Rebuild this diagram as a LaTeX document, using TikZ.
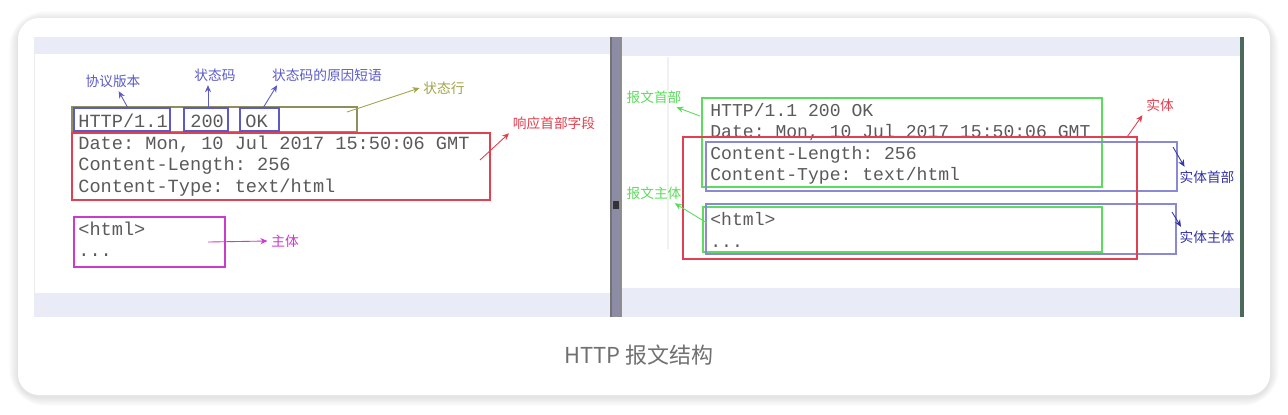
\documentclass[tikz,border=0pt]{standalone}
\usepackage{fontspec}
\setmonofont{Liberation Mono}
\newfontfamily\cjk{Noto Sans CJK SC}
\usetikzlibrary{arrows.meta}

\definecolor{bandblue}{HTML}{E9ECF6}
\definecolor{txtgray}{HTML}{5A5A5A}
\definecolor{capgray}{HTML}{707070}
\definecolor{verblue}{HTML}{5B5BC8}
\definecolor{olivetag}{HTML}{A3A34A}
\definecolor{olivebox}{HTML}{8E8E5E}
\definecolor{hdrred}{HTML}{E0404F}
\definecolor{bodymag}{HTML}{CC3ACC}
\definecolor{msggreen}{HTML}{5CDC5C}
\definecolor{entblue}{HTML}{8A8AD4}
\definecolor{entdark}{HTML}{3434A8}
\definecolor{splitgray}{HTML}{8C8CA6}
\definecolor{edgegreen}{HTML}{4C6A5C}

\tikzset{
  mono/.style={anchor=base west, inner sep=0pt, text=txtgray,
    font=\ttfamily\fontsize{10.6}{12}\selectfont},
  monoR/.style={mono, font=\ttfamily\fontsize{10.3}{12}\selectfont},
  tag/.style={inner sep=2pt, font=\cjk\fontsize{7.8}{9}\selectfont},
  pointer/.style={-{Stealth[length=4pt,width=3.5pt]}, line width=0.5pt},
  frame/.style={line width=0.9pt},
}

\begin{document}
\begin{tikzpicture}[x=0.02cm, y=-0.02cm]
  \useasboundingbox (0,0) rectangle (1288,414);
  \fill[white] (0,0) rectangle (1288,414);

  % -- Card and its soft shadow --
  \foreach \s in {1,...,9}
    \fill[black, opacity=0.012, rounded corners=12+\s] (18-\s,18-\s+2) rectangle (1270+\s,395+\s+2);
  \fill[white, rounded corners=12] (18,18) rectangle (1270,395);

  % -- Left screen panel --
  \fill[bandblue] (34,37) rectangle (610,54);
  \fill[bandblue] (34,293) rectangle (610,317);
  \draw[gray!15, line width=0.5pt] (34.5,54) -- (34.5,293);

  % -- Split bar --
  \fill[splitgray] (610,37) rectangle (622,317);
  \draw[black!55, line width=1pt] (611,37) -- (611,317);
  \draw[black!45, line width=0.8pt] (620.5,37) -- (620.5,317);
  \fill[black!80] (613,201) rectangle (619,209);

  % -- Right screen panel --
  \fill[bandblue] (622,37) rectangle (1240,56);
  \fill[bandblue] (622,288) rectangle (1240,317);
  \draw[gray!12, line width=0.6pt] (668,57) -- (668,249);
  \fill[edgegreen] (1240,37) rectangle (1244,317);

  % -- Left: status line --
  \draw[frame, olivebox] (72,107) rectangle (357,132);
  \draw[frame, verblue] (74,108) rectangle (170,131);
  \draw[frame, verblue] (184,108) rectangle (228,131);
  \draw[frame, verblue] (240,108) rectangle (279,131);
  \node[mono] (lnVer) at (78,127) {HTTP/1.1};
  \node[mono] (lnCode) at (190,127) {200};
  \node[mono] (lnReason) at (245,127) {OK};

  % -- Left: header fields --
  \draw[frame, hdrred] (72,133) rectangle (490,200);
  \node[mono] (lnDate) at (78,149) {Date: Mon, 10 Jul 2017 15:50:06 GMT};
  \node[mono] (lnLen) at (78,170) {Content-Length: 256};
  \node[mono] (lnType) at (78,192) {Content-Type: text/html};

  % -- Left: body --
  \draw[frame, bodymag] (74,217) rectangle (225,267);
  \node[mono] (lnHtml) at (78,235) {<html>};
  \node[mono] (lnDots) at (78,256) {...};

  % -- Left labels --
  \node[tag, verblue] (lblVer) at (113,81) {协议版本};
  \node[tag, verblue] (lblCode) at (215,75) {状态码};
  \node[tag, verblue] (lblReason) at (327,75) {状态码的原因短语};
  \node[tag, olivetag] (lblStatus) at (444,88) {状态行};
  \node[tag, hdrred] (lblHdr) at (554,123) {响应首部字段};
  \node[tag, bodymag] (lblBody) at (285,241) {主体};

  \coordinate (verFrom) at (128,108);
  \coordinate (codeFrom) at (208,107);
  \coordinate (reasonFrom) at (263,108);
  \coordinate (statusFrom) at (347,112);
  \coordinate (hdrFrom) at (480,160);
  \coordinate (bodyFrom) at (208,242);
  \draw[pointer, verblue] (verFrom) -- (lblVer);
  \draw[pointer, verblue] (codeFrom) -- (codeFrom |- lblCode.south);
  \draw[pointer, verblue] (reasonFrom) -- ([xshift=5pt]lblReason.south west);
  \draw[pointer, olivetag] (statusFrom) -- (lblStatus.west);
  \draw[pointer, hdrred] (hdrFrom) -- (lblHdr.south west);
  \draw[pointer, bodymag] (bodyFrom) -- (lblBody.west);

  % -- Right: message header and body --
  \draw[frame, msggreen] (702,98) rectangle (1102,187);
  \draw[frame, msggreen] (703,207) rectangle (1102,252);
  \node[monoR] (rnStart) at (710,116) {HTTP/1.1 200 OK};
  \node[monoR] (rnDate) at (710,137) {Date: Mon, 10 Jul 2017 15:50:06 GMT};
  \node[monoR] (rnLen) at (710,159) {Content-Length: 256};
  \node[monoR] (rnType) at (710,180) {Content-Type: text/html};
  \node[monoR] (rnHtml) at (710,225) {<html>};
  \node[monoR] (rnDots) at (710,247) {...};

  % -- Right: entity --
  \draw[line width=0.6pt, entblue] (706,142) rectangle (1177,191);
  \draw[line width=0.6pt, entblue] (706,204) rectangle (1176,254);
  \draw[frame, hdrred] (683,137) rectangle (1137,259);

  % -- Right labels --
  \node[tag, msggreen] (lblMsgHdr) at (654,97) {报文首部};
  \node[tag, msggreen] (lblMsgBody) at (654,193) {报文主体};
  \node[tag, hdrred] (lblEnt) at (1160,105) {实体};
  \node[tag, entdark] (lblEntHdr) at (1207,177) {实体首部};
  \node[tag, entdark] (lblEntBody) at (1207,237) {实体主体};

  \coordinate (msgHdrFrom) at (700,116);
  \coordinate (msgBodyFrom) at (707,223);
  \coordinate (entFrom) at (1127,137);
  \coordinate (entHdrFrom) at (1173,147);
  \coordinate (entBodyFrom) at (1172,212);
  \draw[pointer, msggreen] (msgHdrFrom) -- ([xshift=-5pt]lblMsgHdr.south east);
  \draw[pointer, msggreen] (msgBodyFrom) -- ([xshift=-6pt]lblMsgBody.south east);
  \draw[pointer, hdrred] (entFrom) -- (lblEnt.south west);
  \draw[pointer, entdark] (entHdrFrom) -- ([xshift=5pt]lblEntHdr.north west);
  \draw[pointer, entdark] (entBodyFrom) -- ([xshift=3pt]lblEntBody.north west);

  % -- Caption --
  \node[capgray, font=\cjk\fontsize{12.5}{15}\selectfont] (caption) at (639,355) {HTTP 报文结构};

\end{tikzpicture}
\end{document}
